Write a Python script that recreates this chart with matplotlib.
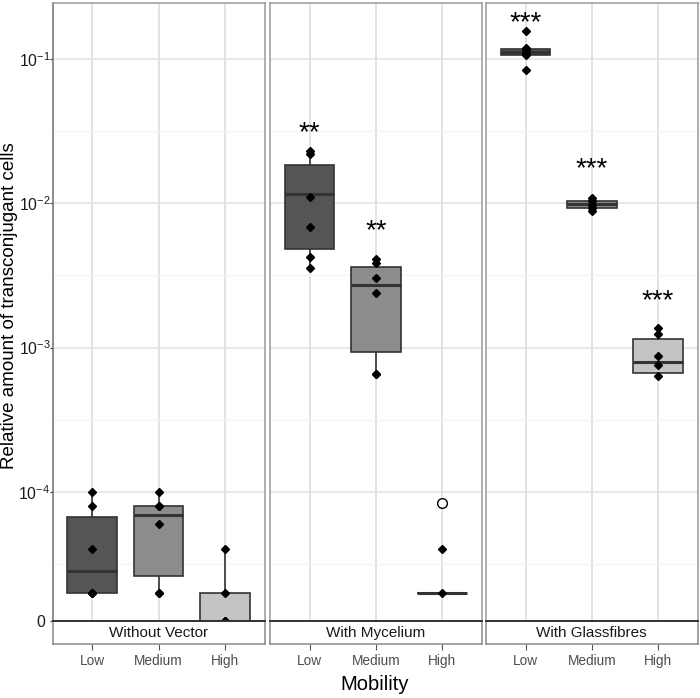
import numpy as np
import matplotlib
matplotlib.use('Agg')
import matplotlib.pyplot as plt
from matplotlib.transforms import ScaledTranslation

plt.rcParams['font.family'] = ['Liberation Sans', 'DejaVu Sans']
plt.rcParams['mathtext.fontset'] = 'custom'
plt.rcParams['mathtext.rm'] = 'Liberation Sans'
plt.rcParams['mathtext.it'] = 'Liberation Sans:italic'
plt.rcParams['mathtext.bf'] = 'Liberation Sans:bold'

# ---------------- data ----------------
facets = ['Without Vector', 'With Mycelium', 'With Glassfibres']
mobility = ['Low', 'Medium', 'High']

# box statistics (rows: facets, cols: Low/Medium/High)
box_whislo = [[2.0e-5, 2.0e-5, 0.0], [3.53e-3, 6.62e-4, 2.0e-5], [1.06e-1, 8.8e-3, 6.4e-4]]
box_q1 = [[2.0e-5, 2.63e-5, 0.0], [4.79e-3, 9.31e-4, 2.0e-5], [1.061e-1, 9.28e-3, 6.66e-4]]
box_median = [[2.84e-5, 6.89e-5, 0.0], [1.156e-2, 2.72e-3, 2.0e-5], [1.107e-1, 9.8e-3, 8.0e-4]]
box_q3 = [[6.73e-5, 8.0e-5, 2.0e-5], [1.845e-2, 3.63e-3, 2.0e-5], [1.167e-1, 1.033e-2, 1.14e-3]]
box_whishi = [[1.0e-4, 1.0e-4, 4.0e-5], [2.31e-2, 4.07e-3, 2.0e-5], [1.19e-1, 1.078e-2, 1.36e-3]]
box_outliers = [[[], [], []], [[], [], [8.36e-5]], [[], [], []]]

# individual replicate values
points_without_vector = [[1e-4, 8e-5, 4e-5, 2e-5, 2e-5, 2e-5],
                         [1e-4, 8e-5, 8e-5, 6e-5, 2e-5, 2e-5],
                         [4e-5, 2e-5, 0.0, 0.0, 0.0]]
points_mycelium = [[0.0231, 0.0219, 0.0111, 0.00686, 0.00425, 0.00353],
                   [0.00407, 0.00387, 0.00305, 0.00238, 0.00066, 0.00066],
                   [4e-5, 2e-5]]
points_glassfibres = [[0.156, 0.119, 0.115, 0.110, 0.106, 0.0835],
                      [0.01078, 0.0103, 0.0097, 0.0092, 0.0088],
                      [0.00136, 0.00125, 0.00087, 0.00076, 0.00064]]
points_all = [points_without_vector, points_mycelium, points_glassfibres]

# significance labels and the height of their centres
sig_labels = [['', '', ''], ['**', '**', ''], ['***', '***', '***']]
sig_y = [[None, None, None], [0.0338, 0.00716, None], [0.198, 0.0192, 0.00232]]

y_ticks = [0, 1e-4, 1e-3, 1e-2, 1e-1]
y_ticklabels = ['0', r'$\mathregular{10^{-4}}$', r'$\mathregular{10^{-3}}$',
                r'$\mathregular{10^{-2}}$', r'$\mathregular{10^{-1}}$']
y_minor = [10**-4.5, 10**-3.5, 10**-2.5, 10**-1.5]

# ---------------- scale ----------------
ZERO_POS = 10**-4.894
Y_TOP = 10**-0.612


def fwd(v):
    v = np.asarray(v, dtype=float)
    return np.log10(np.where(v > ZERO_POS, v, ZERO_POS))


def inv(t):
    return np.power(10.0, np.asarray(t, dtype=float))


fill_colors = ['#555555', '#8c8c8c', '#c4c4c4']
edge = '#333333'

W, H = 700, 698
fig = plt.figure(figsize=(7.0, 6.98), dpi=100)

panel_x = [(52.5, 264.5), (269.8, 481.8), (485.8, 697.8)]
top_px, bot_px, strip_px = 2.7, 621.0, 643.7
STAR_FS = 20

for i, facet in enumerate(facets):
    x0, x1 = panel_x[i]
    ax = fig.add_axes([x0 / W, 1 - bot_px / H, (x1 - x0) / W, (bot_px - top_px) / H])
    ax.set_yscale('function', functions=(fwd, inv))
    ax.set_xlim(0.4, 3.6)
    ax.set_ylim(0, Y_TOP)
    ax.set_yticks(y_ticks)
    ax.set_yticks(y_minor, minor=True)
    if i == 0:
        ax.set_yticklabels(y_ticklabels)
        ax.tick_params(axis='y', which='major', labelsize=11.3, labelcolor='#1a1a1a',
                       length=2.5, color='#333333', pad=-1.0)
    else:
        ax.set_yticklabels([])
        ax.tick_params(axis='y', which='major', length=0)
    ax.tick_params(axis='y', which='minor', length=0)
    ax.set_xticks([1, 2, 3])
    ax.tick_params(axis='x', length=0, labelbottom=False)
    ax.grid(True, which='major', color='#e2e2e2', lw=1.1, zorder=0)
    ax.grid(True, which='minor', axis='y', color='#f3f3f3', lw=0.9, zorder=0)
    ax.set_axisbelow(True)
    for s in ax.spines.values():
        s.set_color('#9a9a9a')
        s.set_linewidth(1.1)
    if i == 0:
        ax.spines['left'].set_color('#6e6e6e')

    stats = []
    for j in range(3):
        stats.append(dict(med=box_median[i][j], q1=box_q1[i][j], q3=box_q3[i][j],
                          whislo=box_whislo[i][j], whishi=box_whishi[i][j],
                          fliers=box_outliers[i][j]))
    bp = ax.bxp(stats, positions=[1, 2, 3], widths=0.75, patch_artist=True,
                showcaps=False, showfliers=True,
                boxprops=dict(edgecolor=edge, linewidth=1.2),
                whiskerprops=dict(color=edge, linewidth=1.2),
                medianprops=dict(color=edge, linewidth=2.2),
                flierprops=dict(marker='o', markerfacecolor='white', markeredgecolor='black',
                                markersize=7, markeredgewidth=1.0))
    for j, patch in enumerate(bp['boxes']):
        patch.set_facecolor(fill_colors[j])
        patch.set_zorder(2)
    for ln in bp['medians']:
        ln.set_zorder(3)

    for j in range(3):
        vals = points_all[i][j]
        ax.plot(np.full(len(vals), j + 1), vals, linestyle='none', marker='D',
                markersize=4.2, color='black', zorder=5, clip_on=False)
        if sig_labels[i][j]:
            ax.annotate(sig_labels[i][j], xy=(j + 1, sig_y[i][j]),
                        xytext=(0, -0.50 * STAR_FS), textcoords='offset points',
                        ha='center', va='baseline', fontsize=STAR_FS, color='black')

    # strip below the panel
    sax = fig.add_axes([x0 / W, 1 - strip_px / H, (x1 - x0) / W, (strip_px - bot_px) / H])
    sax.set_xlim(0.4, 3.6)
    sax.set_ylim(0, 1)
    sax.set_yticks([])
    sax.set_xticks([1, 2, 3])
    sax.set_xticklabels(mobility)
    sax.tick_params(axis='x', length=4, color='#555555', labelsize=9.8,
                    labelcolor='#4d4d4d', pad=3.5)
    sax.set_facecolor('white')
    for s in sax.spines.values():
        s.set_color('#8a8a8a')
        s.set_linewidth(1.1)
    sax.spines['top'].set_color('#333333')
    sax.spines['top'].set_linewidth(1.4)
    sax.text(0.5, 0.45, facet, transform=sax.transAxes, ha='center', va='center',
             fontsize=11, color='#1a1a1a')

    if i == 0:
        # the plain "0" label sits a little further left in the reference
        for lbl in ax.get_yticklabels():
            if lbl.get_text() == '0':
                lbl.set_transform(lbl.get_transform() + ScaledTranslation(-5 / 100, 0, fig.dpi_scale_trans))

fig.text(375 / W, 1 - 685 / H, 'Mobility', ha='center', va='center', fontsize=14.5,
         color='black')
fig.text(10 / W, 1 - 306 / H, 'Relative amount of transconjugant cells', rotation=90,
         ha='center', va='center', fontsize=13.5, color='black')

fig.savefig('out.png', dpi=100)
